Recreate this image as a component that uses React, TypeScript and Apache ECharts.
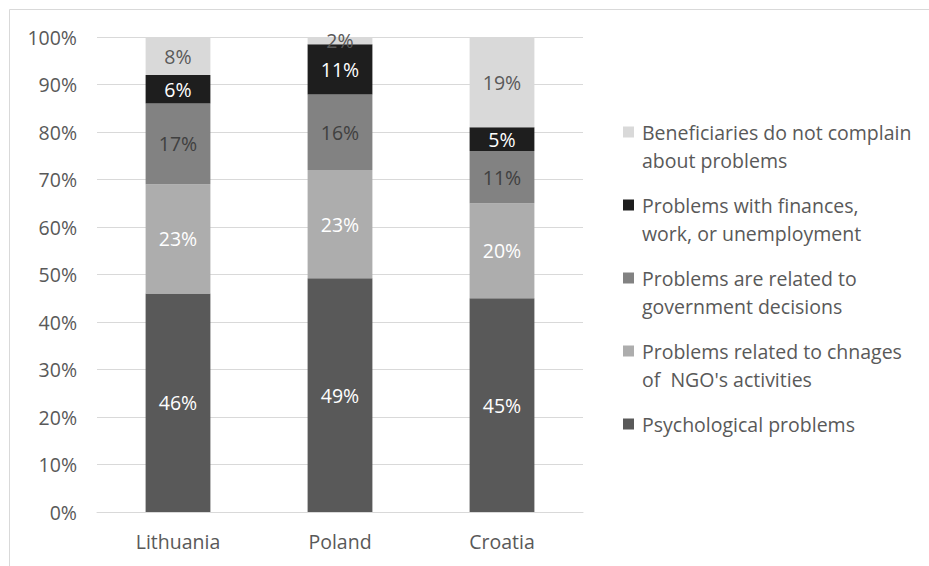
import React, { useEffect, useRef } from "react";
import * as echarts from "echarts";

const categories = ["Lithuania", "Poland", "Croatia"];
const seriesNames = [
  "Psychological problems",
  "Problems related to chnages\nof  NGO's activities",
  "Problems are related to\ngovernment decisions",
  "Problems with finances,\nwork, or unemployment",
  "Beneficiaries do not complain\nabout problems",
];
const psychological = [46, 49.2, 45];
const ngoChanges = [23, 22.8, 20];
const government = [17, 15.9, 11];
const finances = [6, 10.6, 5];
const noComplaints = [8, 1.5, 19];
const yTicks = [0, 10, 20, 30, 40, 50, 60, 70, 80, 90, 100];

const colors = ["#595959", "#adadad", "#828282", "#1e1e1e", "#d9d9d9"];
const labelColors = ["#ffffff", "#ffffff", "#404040", "#ffffff", "#595959"];
const FONT = "'Open Sans', 'Noto Sans', sans-serif";
const FS = 19.5;

export default function App() {
  const ref = useRef<HTMLDivElement>(null);
  useEffect(() => {
    if (!ref.current) return;
    const chart = echarts.init(ref.current, undefined, { renderer: "svg" });
    const values = [psychological, ngoChanges, government, finances, noComplaints];
    const L = 28;
    const legendOrder = seriesNames.map((_, i) => i).reverse();
    const legendItems: any[] = [];
    legendOrder.forEach((si, k) => {
      const c = 132 + k * 73;
      legendItems.push({
        type: "rect",
        shape: { x: 623, y: c - 5.5, width: 11, height: 11 },
        style: { fill: colors[si] },
        silent: true,
      });
      legendItems.push({
        type: "text",
        x: 642,
        y: c - L / 2,
        style: {
          text: seriesNames[si],
          fill: "#595959",
          font: `${FS}px ${FONT}`,
          fontSize: FS,
          fontFamily: FONT,
          lineHeight: L,
          verticalAlign: "top",
          align: "left",
        },
        silent: true,
      });
    });
    chart.setOption({
      animation: false,
      textStyle: { fontFamily: FONT },
      graphic: [
        {
          type: "rect",
          shape: { x: 9.5, y: 9.5, width: 1000, height: 1000 },
          style: { fill: "none", stroke: "#d9d9d9", lineWidth: 1 },
          silent: true,
        },
        ...legendItems,
      ],
      grid: { left: 97, right: 346, top: 37, bottom: 54 },
      xAxis: {
        type: "category",
        data: categories,
        axisLine: { lineStyle: { color: "#d9d9d9" } },
        axisTick: { show: false },
        axisLabel: { fontSize: FS, color: "#595959", margin: 19, fontFamily: FONT },
      },
      yAxis: {
        type: "value",
        min: yTicks[0],
        max: yTicks[yTicks.length - 1],
        interval: 10,
        axisLine: { show: false },
        axisTick: { show: false },
        splitLine: { lineStyle: { color: "#d9d9d9" } },
        axisLabel: {
          fontSize: FS,
          color: "#595959",
          margin: 20,
          fontFamily: FONT,
          formatter: "{value}%",
        },
      },
      series: seriesNames.map((name, i) => ({
        name,
        type: "bar",
        stack: "total",
        barWidth: "40%",
        data: values[i],
        itemStyle: { color: colors[i] },
        label: {
          show: true,
          position: "inside",
          fontSize: FS,
          fontFamily: FONT,
          color: labelColors[i],
          formatter: (p: any) => Math.round(p.value) + "%",
        },
      })),
    });
    return () => chart.dispose();
  }, []);
  return (
    <div
      ref={ref}
      style={{ position: "fixed", left: 0, top: 0, width: 929, height: 566, background: "#fff" }}
    />
  );
}
